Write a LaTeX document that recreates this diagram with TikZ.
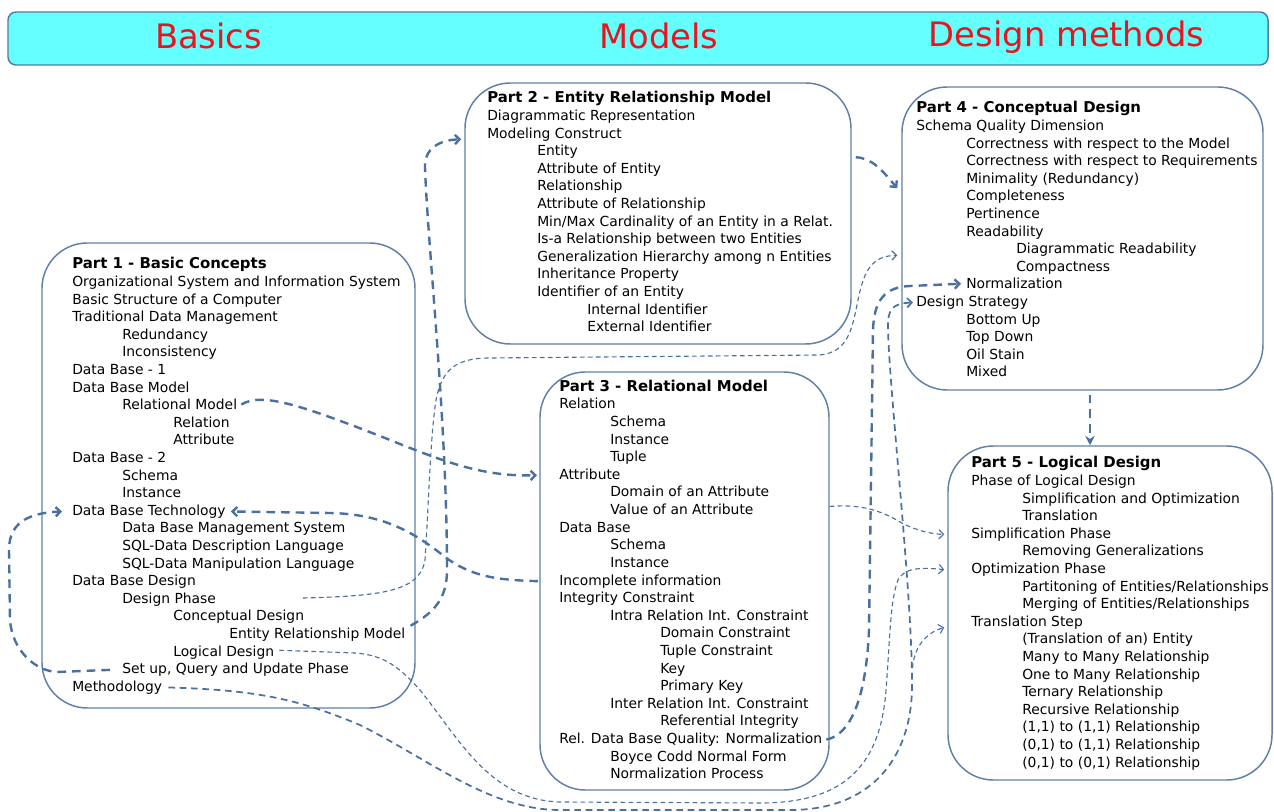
\documentclass[tikz,border=0pt]{standalone}
\usepackage{fontspec}
\setmainfont{DejaVu Sans}
\usetikzlibrary{arrows.meta,calc,fit}

\definecolor{barfill}{RGB}{102,255,255}
\definecolor{barline}{RGB}{84,122,168}
\definecolor{titlered}{RGB}{232,20,30}
\definecolor{boxc}{RGB}{96,128,168}
\definecolor{linkc}{RGB}{74,112,160}

\newcommand\lnfont{\fontsize{10.4pt}{12pt}\selectfont}
\newcommand\hdfont{\fontsize{11.2pt}{13pt}\selectfont\bfseries}
\newcommand\ttlfont{\fontsize{25.3pt}{30pt}\selectfont}

\tikzset{
  ln/.style={anchor=base west, inner sep=0pt, font=\lnfont},
  hd/.style={anchor=base west, inner sep=0pt, font=\hdfont},
  ttl/.style={anchor=base, inner sep=0pt, font=\ttlfont, text=titlered},
  bar/.style={draw=barline, line width=1.1pt, fill=barfill, rounded corners=6pt, inner sep=0pt},
  box/.style={draw=boxc, line width=1.1pt, fill=white, rounded corners=34pt, inner sep=0pt},
  thickdash/.style={draw=linkc, line width=1.8pt, dash pattern=on 6.5pt off 4.5pt},
  meddash/.style={draw=linkc, line width=1.3pt, dash pattern=on 5pt off 3.5pt},
  thindash/.style={draw=linkc, line width=0.85pt, dash pattern=on 3.5pt off 2.5pt},
  tip/.style={-{Straight Barb[length=3.5pt,width=7pt]}},
}

\begin{document}
\begin{tikzpicture}[x=0.75pt,y=-0.75pt]
\useasboundingbox (0,0) rectangle (1274,812);

% title bar
\node[bar, fit={(8,12) (1268,65)}] (bar) {};
\node[ttl] (tbasics) at (208.5,49) {Basics};
\node[ttl] (tmodels) at (659,49) {Models};
\node[ttl] (tdesign) at (1066.5,47) {Design methods};

% frames of the five parts
\node[box, fit={(42,243) (415,708)}] (p1) {};
\node[box, fit={(465,83) (851,344)}] (p2) {};
\node[box, fit={(540,372) (829,790)}] (p3) {};
\node[box, fit={(902,87) (1263,390)}] (p4) {};
\node[box, fit={(948,446) (1272,780)}] (p5) {};

% Part 1
\node[hd] (p1h) at (72,269) {Part 1 - Basic Concepts};
\node[ln] (a1) at (72,286.5) {Organizational System and Information System};
\node[ln] (a2) at (72,304.1) {Basic Structure of a Computer};
\node[ln] (a3) at (72,321.7) {Traditional Data Management};
\node[ln] (a4) at (122,339.3) {Redundancy};
\node[ln] (a5) at (122,356.9) {Inconsistency};
\node[ln] (a6) at (72,374.5) {Data Base - 1};
\node[ln] (a7) at (72,392.1) {Data Base Model};
\node[ln] (a8) at (122,409.7) {Relational Model};
\node[ln] (a9) at (173,427.3) {Relation};
\node[ln] (a10) at (173,444.9) {Attribute};
\node[ln] (a11) at (72,462.5) {Data Base - 2};
\node[ln] (a12) at (122,480.1) {Schema};
\node[ln] (a13) at (122,497.7) {Instance};
\node[ln] (a14) at (72,515.3) {Data Base Technology};
\node[ln] (a15) at (122,532.9) {Data Base Management System};
\node[ln] (a16) at (122,550.5) {SQL-Data Description Language};
\node[ln] (a17) at (122,568.1) {SQL-Data Manipulation Language};
\node[ln] (a18) at (72,585.7) {Data Base Design};
\node[ln] (a19) at (122,603.3) {Design Phase};
\node[ln] (a20) at (173,620.9) {Conceptual Design};
\node[ln] (a21) at (229,638.5) {Entity Relationship Model};
\node[ln] (a22) at (173,656.1) {Logical Design};
\node[ln] (a23) at (122,673.7) {Set up, Query and Update Phase};
\node[ln] (a24) at (72,691.3) {Methodology};

% Part 2
\node[hd] (p2h) at (487,103) {Part 2 - Entity Relationship Model};
\node[ln] (b1) at (487,120.5) {Diagrammatic Representation};
\node[ln] (b2) at (487,138.1) {Modeling Construct};
\node[ln] (b3) at (537,155.7) {Entity};
\node[ln] (b4) at (537,173.3) {Attribute of Entity};
\node[ln] (b5) at (537,190.9) {Relationship};
\node[ln] (b6) at (537,208.5) {Attribute of Relationship};
\node[ln] (b7) at (537,226.1) {Min/Max Cardinality of an Entity in a Relat.};
\node[ln] (b8) at (537,243.7) {Is-a Relationship between two Entities};
\node[ln] (b9) at (537,261.3) {Generalization Hierarchy among n Entities};
\node[ln] (b10) at (537,278.9) {Inheritance Property};
\node[ln] (b11) at (537,296.5) {Identifier of an Entity};
\node[ln] (b12) at (587,314.1) {Internal Identifier};
\node[ln] (b13) at (587,331.7) {External Identifier};

% Part 3
\node[hd] (p3h) at (559,392) {Part 3 - Relational Model};
\node[ln] (c1) at (559,409) {Relation};
\node[ln] (c2) at (610,426.6) {Schema};
\node[ln] (c3) at (610,444.2) {Instance};
\node[ln] (c4) at (610,461.8) {Tuple};
\node[ln] (c5) at (559,479.4) {Attribute};
\node[ln] (c6) at (610,497) {Domain of an Attribute};
\node[ln] (c7) at (610,514.6) {Value of an Attribute};
\node[ln] (c8) at (559,532.2) {Data Base};
\node[ln] (c9) at (610,549.8) {Schema};
\node[ln] (c10) at (610,567.4) {Instance};
\node[ln] (c11) at (559,585) {Incomplete information};
\node[ln] (c12) at (559,602.6) {Integrity Constraint};
\node[ln] (c13) at (610,620.2) {Intra Relation Int. Constraint};
\node[ln] (c14) at (660,637.8) {Domain Constraint};
\node[ln] (c15) at (660,655.4) {Tuple Constraint};
\node[ln] (c16) at (660,673) {Key};
\node[ln] (c17) at (660,690.6) {Primary Key};
\node[ln] (c18) at (610,708.2) {Inter Relation Int. Constraint};
\node[ln] (c19) at (660,725.8) {Referential Integrity};
\node[ln] (c20) at (559,743.4) {Rel. Data Base Quality: Normalization};
\node[ln] (c21) at (610,761) {Boyce Codd Normal Form};
\node[ln] (c22) at (610,778.6) {Normalization Process};

% Part 4
\node[hd] (p4h) at (916,113) {Part 4 - Conceptual Design};
\node[ln] (d1) at (916,130.5) {Schema Quality Dimension};
\node[ln] (d2) at (966,148.1) {Correctness with respect to the Model};
\node[ln] (d3) at (966,165.7) {Correctness with respect to Requirements};
\node[ln] (d4) at (966,183.3) {Minimality (Redundancy)};
\node[ln] (d5) at (966,200.9) {Completeness};
\node[ln] (d6) at (966,218.5) {Pertinence};
\node[ln] (d7) at (966,236.1) {Readability};
\node[ln] (d8) at (1016,253.7) {Diagrammatic Readability};
\node[ln] (d9) at (1016,271.3) {Compactness};
\node[ln] (d10) at (966,288.9) {Normalization};
\node[ln] (d11) at (916,306.5) {Design Strategy};
\node[ln] (d12) at (966,324.1) {Bottom Up};
\node[ln] (d13) at (966,341.7) {Top Down};
\node[ln] (d14) at (966,359.3) {Oil Stain};
\node[ln] (d15) at (966,376.9) {Mixed};

% Part 5
\node[hd] (p5h) at (971,468) {Part 5 - Logical Design};
\node[ln] (e1) at (971,485.5) {Phase of Logical Design};
\node[ln] (e2) at (1022,503.1) {Simplification and Optimization};
\node[ln] (e3) at (1022,520.7) {Translation};
\node[ln] (e4) at (971,538.3) {Simplification Phase};
\node[ln] (e5) at (1022,555.9) {Removing Generalizations};
\node[ln] (e6) at (971,573.5) {Optimization Phase};
\node[ln] (e7) at (1022,591.1) {Partitoning of Entities/Relationships};
\node[ln] (e8) at (1022,608.7) {Merging of Entities/Relationships};
\node[ln] (e9) at (971,626.3) {Translation Step};
\node[ln] (e10) at (1022,643.9) {(Translation of an) Entity};
\node[ln] (e11) at (1022,661.5) {Many to Many Relationship};
\node[ln] (e12) at (1022,679.1) {One to Many Relationship};
\node[ln] (e13) at (1022,696.7) {Ternary Relationship};
\node[ln] (e14) at (1022,714.3) {Recursive Relationship};
\node[ln] (e15) at (1022,731.9) {(1,1) to (1,1) Relationship};
\node[ln] (e16) at (1022,749.5) {(0,1) to (1,1) Relationship};
\node[ln] (e17) at (1022,767.1) {(0,1) to (0,1) Relationship};

% free ends of some links
\coordinate (dpe) at (303,598);
\coordinate (fx) at (1090,0);
\coordinate (br) at (912.5,668);

% links
% Relational Model -> Attribute
\draw[thickdash, tip] ($(a8.east)+(4,0)$) .. controls (262,392) and (300,405) .. (380,436)
  .. controls (440,460) and (480,477) .. ($(c5.west)+(-22,1)$);
% Incomplete information -> Data Base Technology
\draw[thickdash, tip] ($(c11.west)+(-21,0)$) .. controls (500,580) and (470,578) .. (440,553)
  .. controls (410,530) and (380,514) .. (330,513) -- ($(a14.east)+(5,0)$);
% Entity Relationship Model -> Part 2
\draw[thickdash, tip] ($(a21.north east)+(5,-2)$) .. controls (435,612) and (447,598) .. (447,570)
  .. controls (447,420) and (428,250) .. (425,168)
  .. controls (424,148) and (440,140) .. ($(p2.north west)+(-3,57)$);
% Design Phase -> Part 4
\draw[thindash, tip] (dpe) .. controls (380,596) and (420,592) .. (425,560)
  .. controls (429,500) and (430,440) .. (436,400)
  .. controls (442,370) and (455,358) .. (490,358) -- (820,355)
  .. controls (848,352) and (852,330) .. (858,300)
  .. controls (864,270) and (872,256) .. ($(p4.north west)+(-4,169)$);
% Part 2 -> Part 4
\draw[thickdash, tip] ($(p2.north east)+(4,75)$) .. controls (872,158) and (882,170) .. ($(p4.north west)+(-4,102)$);
% Part 4 -> Part 5
\draw[thickdash, -{Stealth[length=7pt,width=7pt]}, shorten <=3pt] (fx |- p4.south) -- (fx |- p5.north);
% Rel. Data Base Quality: Normalization -> Normalization
\draw[thickdash, tip] ($(c20.east)+(4,0)$) .. controls (850,735) and (866,700) .. (869,630)
  -- (873,330) .. controls (874,300) and (885,287) .. (910,286) -- ($(d10.west)+(-5,0)$);
% Methodology -> Design Strategy
\draw[meddash, tip] ($(a24.east)+(6,0)$) .. controls (260,690) and (300,700) .. (360,725)
  .. controls (430,760) and (490,810) .. (560,810) -- (790,810)
  .. controls (870,810) and (910,760) .. (912,690)
  .. controls (913,600) and (890,400) .. (888,330)
  .. controls (887,310) and (892,303) .. ($(d11.west)+(-3,0)$);
% branch to Translation Step
\draw[thindash, tip] (br) .. controls (914,648) and (925,633) .. ($(e9.west -| p5.west)+(-3,5)$);
% Logical Design -> Optimization Phase
\draw[thindash, tip] ($(a22.east)+(5,-2)$) -- (355,653) .. controls (385,655) and (400,668) .. (420,690)
  .. controls (460,740) and (490,800) .. (560,802) -- (760,803)
  .. controls (840,803) and (880,770) .. (886,690)
  .. controls (890,640) and (890,600) .. (898,580)
  .. controls (904,568) and (920,567) .. ($(e6.west -| p5.west)+(-3,0)$);
% Part 3 -> Simplification Phase
\draw[thindash, tip] ($(c7.west -| p3.east)+(0,-3)$) .. controls (860,504) and (880,510) .. (900,522)
  .. controls (915,530) and (930,534) .. ($(e4.west -| p5.west)+(-3,0)$);
% Set up, Query and Update Phase -> Data Base Technology
\draw[thickdash, tip] ($(a23.west)+(-12,0)$) -- (57,672) .. controls (35,671) and (12,650) .. (10,620)
  -- (9,550) .. controls (9,525) and (25,513) .. ($(a14.west)+(-10,0)$);
\end{tikzpicture}
\end{document}
